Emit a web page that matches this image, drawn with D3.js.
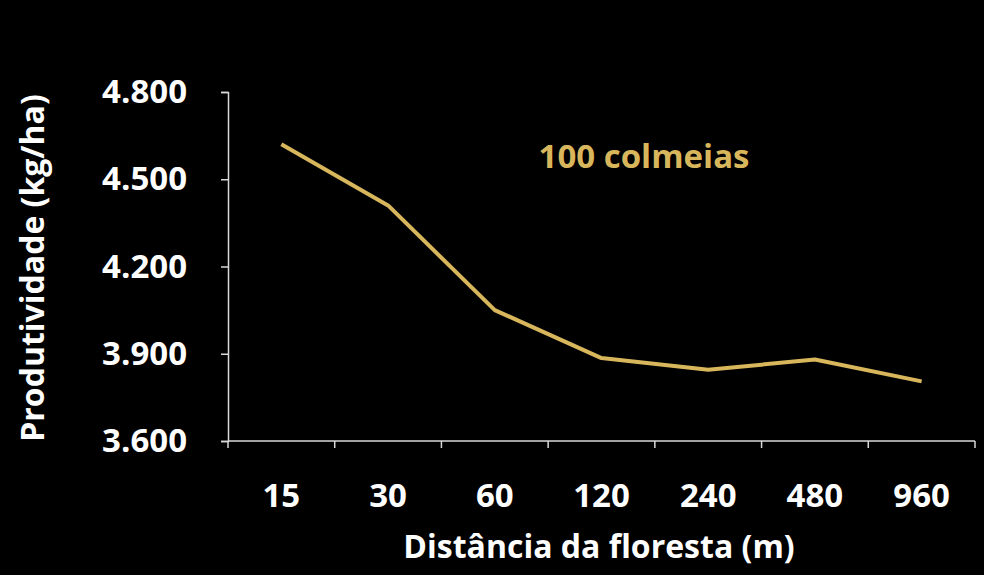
<!DOCTYPE html>
<html>
<head>
<meta charset="utf-8">
<script src="https://cdn.jsdelivr.net/npm/d3@7"></script>
<style>
  body { margin: 0; background: #000; }
  text { font-family: "Open Sans", "Noto Sans", sans-serif; font-weight: 700; }
</style>
</head>
<body>
<svg id="chart" width="984" height="575"></svg>
<script>
const distances = ['15', '30', '60', '120', '240', '480', '960'];
const productivity = [4620, 4410, 4050, 3885, 3845, 3880, 3805];
const yTicks = [3600, 3900, 4200, 4500, 4800];

const margin = { left: 228, top: 92, right: 9, bottom: 134 };
const width = 984, height = 575;

const svg = d3.select('#chart');
svg.append('rect').attr('width', width).attr('height', height).attr('fill', '#000');

const x = d3.scaleBand().domain(distances).range([margin.left, width - margin.right]);
const y = d3.scaleLinear().domain([3600, 4800]).range([height - margin.bottom, margin.top]);

const fmt = d => d3.format(',')(d).replace(',', '.');

// y axis
const yAxis = svg.append('g')
  .attr('transform', `translate(${margin.left},0)`)
  .call(d3.axisLeft(y).tickValues(yTicks).tickFormat(fmt).tickSize(7).tickPadding(34));
yAxis.selectAll('line, path').attr('stroke', '#d9d9d9').attr('stroke-width', 1.5);
yAxis.selectAll('text').attr('fill', '#fff').attr('font-size', 33)
  .style('font-family', '"Open Sans", sans-serif').style('font-weight', 700);

// x axis (ticks at band edges)
const xg = svg.append('g').attr('transform', `translate(0,${y(3600)})`);
xg.append('line').attr('x1', margin.left).attr('x2', width - margin.right)
  .attr('stroke', '#d9d9d9').attr('stroke-width', 1.5);
distances.forEach(d => {
  xg.append('line').attr('x1', x(d)).attr('x2', x(d)).attr('y1', 0).attr('y2', 7)
    .attr('stroke', '#d9d9d9').attr('stroke-width', 1.5);
  xg.append('text').attr('x', x(d) + x.bandwidth() / 2).attr('y', 66)
    .attr('text-anchor', 'middle').attr('fill', '#fff').attr('font-size', 33).text(d);
});
xg.append('line').attr('x1', width - margin.right).attr('x2', width - margin.right)
  .attr('y1', 0).attr('y2', 7).attr('stroke', '#d9d9d9').attr('stroke-width', 1.5);

// line
const line = d3.line()
  .x((d, i) => x(distances[i]) + x.bandwidth() / 2)
  .y(d => y(d));
svg.append('path').datum(productivity).attr('d', line)
  .attr('fill', 'none').attr('stroke', '#d8b65c').attr('stroke-width', 4)
  .attr('stroke-linejoin', 'round');

// labels
svg.append('text').attr('x', 644).attr('y', 168).attr('text-anchor', 'middle')
  .attr('fill', '#d8b65c').attr('font-size', 33).text('100 colmeias');
svg.append('text').attr('x', 599).attr('y', 558).attr('text-anchor', 'middle')
  .attr('fill', '#fff').attr('font-size', 32).text('Distância da floresta (m)');
svg.append('text').attr('transform', 'translate(44,268) rotate(-90)').attr('text-anchor', 'middle')
  .attr('fill', '#fff').attr('font-size', 32).text('Produtividade (kg/ha)');
</script>
</body>
</html>
